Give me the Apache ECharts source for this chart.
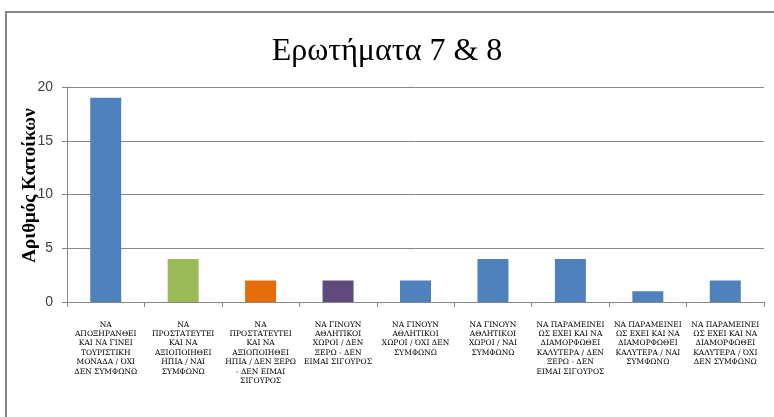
<!DOCTYPE html>
<html>
<head>
<meta charset="utf-8">
<script src="https://cdn.jsdelivr.net/npm/echarts@6/dist/echarts.min.js"></script>
<style>
  html, body { margin: 0; padding: 0; background: #fff; }
  #chart { width: 774px; height: 417px; }
</style>
</head>
<body>
<div id="chart"></div>
<script>
// Survey answers for questions 7 and 8
const categories = [
  'ΝΑ\nΑΠΟΞΗΡΑΝΘΕΙ\nΚΑΙ ΝΑ ΓΙΝΕΙ\nΤΟΥΡΙΣΤΙΚΗ\nΜΟΝΑΔΑ / ΌΧΙ\nΔΕΝ ΣΥΜΦΩΝΩ',
  'ΝΑ\nΠΡΟΣΤΑΤΕΥΤΕΙ\nΚΑΙ ΝΑ\nΑΞΙΟΠΟΙΗΘΕΙ\nΗΠΙΑ / ΝΑΙ\nΣΥΜΦΩΝΩ',
  'ΝΑ\nΠΡΟΣΤΑΤΕΥΤΕΙ\nΚΑΙ ΝΑ\nΑΞΙΟΠΟΙΗΘΕΙ\nΗΠΙΑ / ΔΕΝ ΞΕΡΩ\n- ΔΕΝ ΕΙΜΑΙ\nΣΙΓΟΥΡΟΣ',
  'ΝΑ ΓΙΝΟΥΝ\nΑΘΛΗΤΙΚΟΙ\nΧΩΡΟΙ / ΔΕΝ\nΞΕΡΩ - ΔΕΝ\nΕΙΜΑΙ ΣΙΓΟΥΡΟΣ',
  'ΝΑ ΓΙΝΟΥΝ\nΑΘΛΗΤΙΚΟΙ\nΧΩΡΟΙ / ΌΧΙ ΔΕΝ\nΣΥΜΦΩΝΩ',
  'ΝΑ ΓΙΝΟΥΝ\nΑΘΛΗΤΙΚΟΙ\nΧΩΡΟΙ / ΝΑΙ\nΣΥΜΦΩΝΩ',
  'ΝΑ ΠΑΡΑΜΕΙΝΕΙ\nΩΣ ΕΧΕΙ ΚΑΙ ΝΑ\nΔΙΑΜΟΡΦΩΘΕΙ\nΚΑΛΥΤΕΡΑ / ΔΕΝ\nΞΕΡΩ - ΔΕΝ\nΕΙΜΑΙ ΣΙΓΟΥΡΟΣ',
  'ΝΑ ΠΑΡΑΜΕΙΝΕΙ\nΩΣ ΕΧΕΙ ΚΑΙ ΝΑ\nΔΙΑΜΟΡΦΩΘΕΙ\nΚΑΛΥΤΕΡΑ / ΝΑΙ\nΣΥΜΦΩΝΩ',
  'ΝΑ ΠΑΡΑΜΕΙΝΕΙ\nΩΣ ΕΧΕΙ ΚΑΙ ΝΑ\nΔΙΑΜΟΡΦΩΘΕΙ\nΚΑΛΥΤΕΡΑ / ΌΧΙ\nΔΕΝ ΣΥΜΦΩΝΩ'
];
const residents = [19, 4, 2, 2, 2, 4, 4, 1, 2];
const barColors = ['#4F81BD', '#9BBB59', '#E46C0A', '#604A7B', '#4F81BD', '#4F81BD', '#4F81BD', '#4F81BD', '#4F81BD'];
const yTicks = { min: 0, max: 20, interval: 5 };

const chart = echarts.init(document.getElementById('chart'));
chart.setOption({
  animation: false,
  backgroundColor: '#fff',
  title: {
    text: 'Ερωτήματα 7 & 8',
    left: 'center',
    top: 31,
    textStyle: {
      fontFamily: 'Liberation Serif',
      fontSize: 32,
      fontWeight: 'normal',
      color: '#000'
    }
  },
  graphic: [{
    type: 'rect',
    shape: { x: 6, y: 12, width: 820, height: 440 },
    style: { fill: 'none', stroke: '#868686', lineWidth: 2 },
    silent: true
  }],
  grid: { left: 67, right: 10, top: 87, bottom: 115 },
  xAxis: {
    type: 'category',
    data: categories,
    axisLine: { show: true, lineStyle: { color: '#868686' } },
    axisTick: { show: true, alignWithLabel: false, length: 5, lineStyle: { color: '#868686' } },
    axisLabel: {
      interval: 0,
      margin: 18,
      fontFamily: 'DejaVu Serif',
      fontSize: 7.5,
      lineHeight: 9.4,
      color: '#000'
    }
  },
  yAxis: {
    type: 'value',
    min: yTicks.min,
    max: yTicks.max,
    interval: yTicks.interval,
    name: 'Αριθμός Κατοίκων',
    nameLocation: 'middle',
    nameGap: 27,
    nameMoveOverlap: false,
    nameTextStyle: {
      fontFamily: 'Liberation Serif',
      fontSize: 19,
      fontWeight: 'bold',
      color: '#000',
      padding: [0, 0, 0, 18]
    },
    axisLine: { show: true, lineStyle: { color: '#868686' } },
    axisTick: { show: true, length: 5, lineStyle: { color: '#868686' } },
    axisLabel: {
      margin: 14,
      fontFamily: 'Liberation Sans Narrow, Liberation Sans',
      fontSize: 14,
      color: '#404040'
    },
    splitLine: { show: true, lineStyle: { color: '#868686' } }
  },
  series: [{
    type: 'bar',
    data: residents.map((v, i) => ({ value: v, itemStyle: { color: barColors[i] } })),
    barWidth: 31
  }]
});
</script>
</body>
</html>
